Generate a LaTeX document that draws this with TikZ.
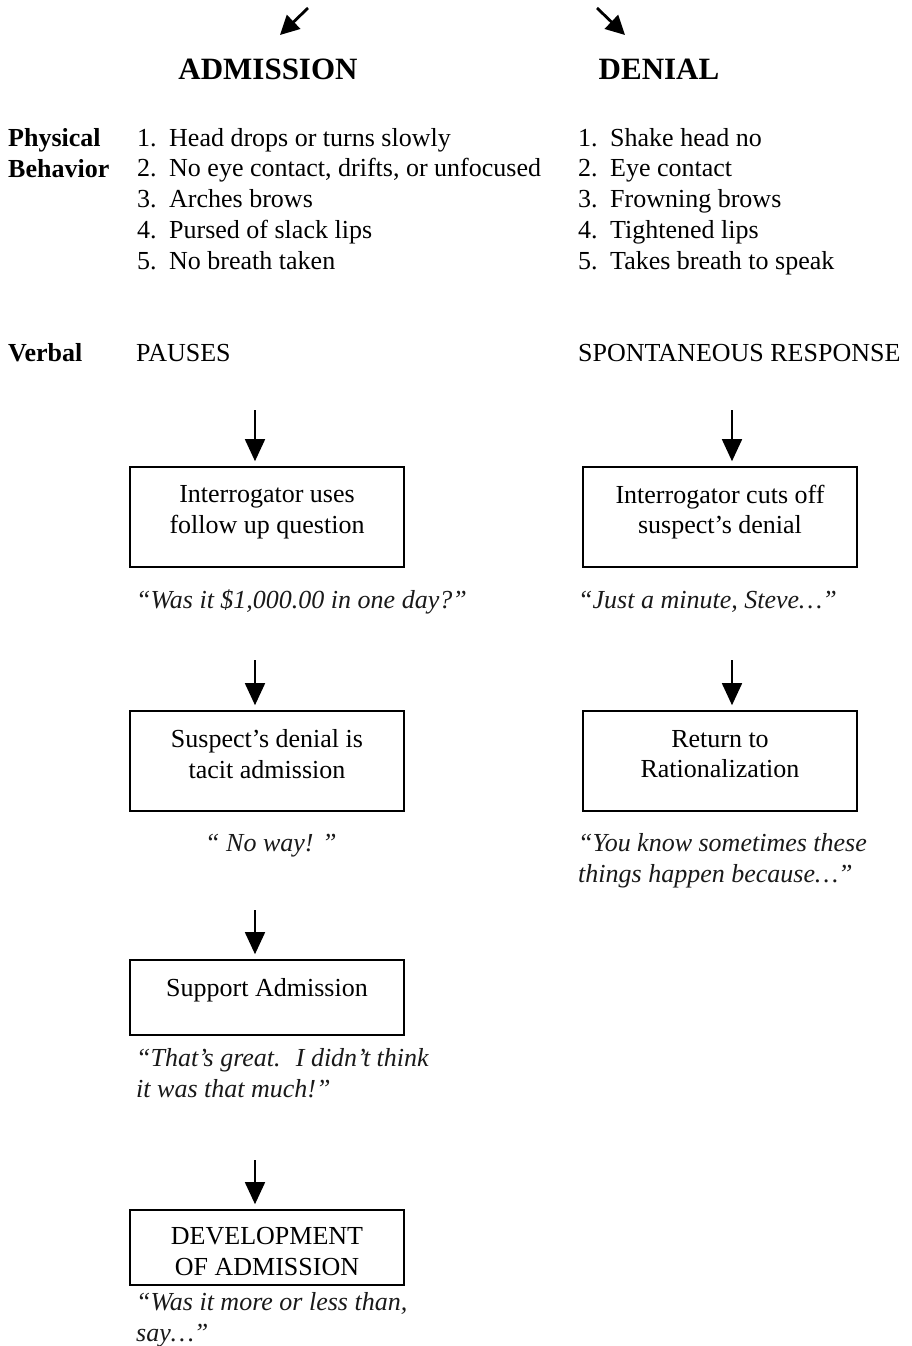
\documentclass[tikz,border=0pt]{standalone}
\usepackage{fontspec}
\setmainfont{Liberation Serif}
\usetikzlibrary{arrows.meta,positioning}
\begin{document}
\begin{tikzpicture}
  [x=1pt, y=-1pt,
   font=\fontsize{26}{30.7}\selectfont,
   heading/.style={font=\fontsize{31}{36}\selectfont\bfseries, anchor=base, inner sep=0pt},
   rowlabel/.style={font=\fontsize{26}{30.7}\selectfont\bfseries, anchor=base west, inner sep=0pt},
   item/.style={anchor=base west, inner sep=0pt},
   flowbox/.style={draw=black, line width=1.6pt, minimum width=274pt, minimum height=#1, inner sep=0pt},
   flowbox/.default=100pt,
   boxtext/.style={align=center, inner sep=0pt},
   quote/.style={font=\fontsize{26}{30.7}\selectfont\itshape, text=black!90, align=left, anchor=base west, inner sep=0pt},
   flow/.style={line width=1.6pt, -{Triangle[length=22pt, width=20pt]}, shorten >=5pt},
   pick/.style={line width=2.8pt, -{Triangle[length=19pt, width=19pt]}}]

  \useasboundingbox (0,0) rectangle (911,1346);

  % Flechas de arriba
  \coordinate (adm0) at (308,8);
  \coordinate (adm1) at (280,35);
  \coordinate (den0) at (597,8);
  \coordinate (den1) at (625,35);
  \draw[pick] (adm0) -- (adm1);
  \draw[pick] (den0) -- (den1);

  % Titulos
  \node[heading] (hadm) at (268,79) {ADMISSION};
  \node[heading] (hden) at (659,79) {DENIAL};

  % Conducta fisica
  \node[rowlabel, align=left] (phys) at (8,177) {Physical\\Behavior};
  \foreach \i/\txt in {1/Head drops or turns slowly, 2/{No eye contact, drifts, or unfocused},
                       3/Arches brows, 4/Pursed of slack lips, 5/No breath taken}
  {
    \node[item] (an\i) at (137,{146+(\i-1)*30.75}) {\i.};
    \node[item] (at\i) at (169,{146+(\i-1)*30.75}) {\txt};
  }
  \foreach \i/\txt in {1/Shake head no, 2/Eye contact, 3/Frowning brows,
                       4/Tightened lips, 5/Takes breath to speak}
  {
    \node[item] (dn\i) at (578,{146+(\i-1)*30.75}) {\i.};
    \node[item] (dt\i) at (610,{146+(\i-1)*30.75}) {\txt};
  }

  % Verbal
  \node[rowlabel] (verb) at (8,361) {Verbal};
  \node[item] (paus) at (136,361) {PAUSES};
  \node[item] (spon) at (578,361) {SPONTANEOUS RESPONSE};

  % Cajas de la admision
  \node[flowbox] (pa) at (267,517) {};
  \node[boxtext, yshift=4.5pt] (pat) at (pa) {Interrogator uses\\follow up question};
  \node[flowbox] (pb) at (267,761) {};
  \node[boxtext, yshift=7pt] (pbt) at (pb) {Suspect’s denial is\\tacit admission};
  \node[flowbox=75pt] (pc) at (267,997.5) {};
  \node[boxtext, yshift=7.5pt] (pct) at (pc) {Support Admission};
  \node[flowbox=75pt] (pd) at (267,1247.5) {};
  \node[boxtext, yshift=-4pt] (pdt) at (pd) {DEVELOPMENT\\OF ADMISSION};

  % Cajas de la negacion
  \node[flowbox] (da) at (720,517) {};
  \node[boxtext, yshift=5pt] (dat) at (da) {Interrogator cuts off\\suspect’s denial};
  \node[flowbox] (db) at (720,761) {};
  \node[boxtext, yshift=7pt] (dbt) at (db) {Return to\\Rationalization};

  % Frases
  \node[quote] (qa) at (136,608) {“Was it \$1,000.00 in one day?”};
  \node[quote] (qb) at (205,851) {“ No way! ”};
  \node[quote] (qc) at (136,1097) {“That’s great.~ I didn’t think\\it was that much!”};
  \node[quote] (qd) at (136,1341) {“Was it more or less than,\\say…”};
  \node[quote] (qe) at (578,608) {“Just a minute, Steve…”};
  \node[quote] (qf) at (578,882) {“You know sometimes these\\things happen because…”};

  % Flechas
  \foreach \n/\y/\to in {a1/410/pa, a2/660/pb, a3/910/pc, a4/1160/pd}
  {
    \coordinate (\n) at (255,\y);
    \draw[flow] (\n) -- (\n |- \to.north);
  }
  \foreach \n/\y/\to in {d1/410/da, d2/660/db}
  {
    \coordinate (\n) at (732,\y);
    \draw[flow] (\n) -- (\n |- \to.north);
  }
\end{tikzpicture}
\end{document}
